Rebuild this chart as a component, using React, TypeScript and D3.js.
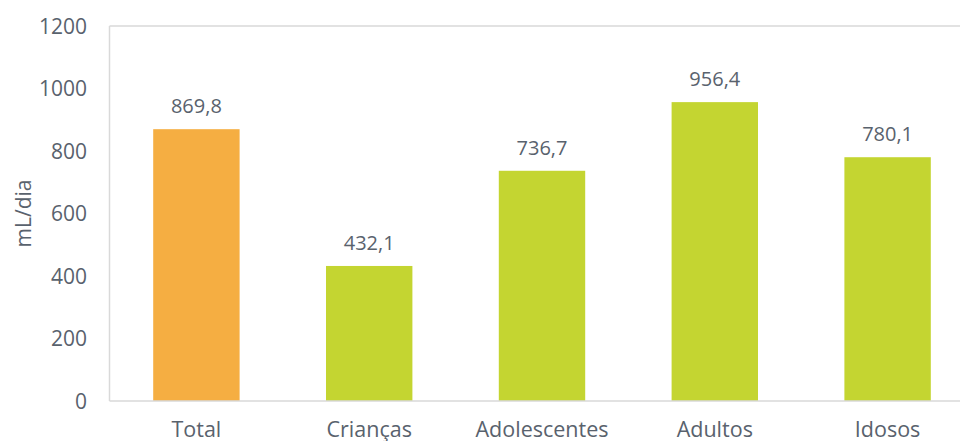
import React from "react";
import * as d3 from "d3";

const categories = ["Total", "Crianças", "Adolescentes", "Adultos", "Idosos"];
const values = [869.8, 432.1, 736.7, 956.4, 780.1];
const labels = ["869,8", "432,1", "736,7", "956,4", "780,1"];
const yTicks = [0, 200, 400, 600, 800, 1000, 1200];
const barColors = ["#F5AE42", "#C4D531", "#C4D531", "#C4D531", "#C4D531"];
const yTitle = "mL/dia";

const W = 960;
const H = 441;
const left = 110;
const top = 26;
const bottom = 401;
const textColor = "#59626D";
const font = "'Open Sans', 'Liberation Sans', sans-serif";

export default function App() {
  const x = d3
    .scaleBand<string>()
    .domain(categories)
    .range([left, 974])
    .paddingInner(0.5)
    .paddingOuter(0.25);
  const y = d3.scaleLinear().domain([0, 1200]).range([bottom, top]);

  return (
    <svg
      width={W}
      height={H}
      style={{ position: "absolute", left: 0, top: 0, display: "block", background: "#fff" }}
      fontFamily={font}
    >
      {/* plot border */}
      <line x1={left - 0.5} x2={W} y1={top} y2={top} stroke="#D9D9D9" strokeWidth={1.5} />
      <line x1={left - 0.5} x2={left - 0.5} y1={top} y2={bottom} stroke="#D9D9D9" strokeWidth={1.5} />
      {categories.map((c, i) => (
        <rect
          key={c}
          x={x(c)}
          y={y(values[i])}
          width={x.bandwidth()}
          height={bottom - y(values[i])}
          fill={barColors[i]}
        />
      ))}
      <line x1={left - 0.5} x2={W} y1={bottom} y2={bottom} stroke="#D9D9D9" strokeWidth={1.5} />
      {yTicks.map((t) => (
        <text
          key={t}
          x={87}
          y={y(t)}
          dy="0.36em"
          textAnchor="end"
          fontSize={21}
          fill={textColor}
        >
          {t}
        </text>
      ))}
      {categories.map((c, i) => (
        <text
          key={"l" + c}
          x={(x(c) as number) + x.bandwidth() / 2}
          y={y(values[i]) - 16}
          textAnchor="middle"
          fontSize={20}
          fill={textColor}
        >
          {labels[i]}
        </text>
      ))}
      {categories.map((c) => (
        <text
          key={"c" + c}
          x={(x(c) as number) + x.bandwidth() / 2}
          y={437}
          textAnchor="middle"
          fontSize={21.5}
          fill={textColor}
        >
          {c}
        </text>
      ))}
      <text
        transform={`translate(31, ${(top + bottom) / 2}) rotate(-90)`}
        textAnchor="middle"
        fontSize={21}
        fill={textColor}
      >
        {yTitle}
      </text>
    </svg>
  );
}
